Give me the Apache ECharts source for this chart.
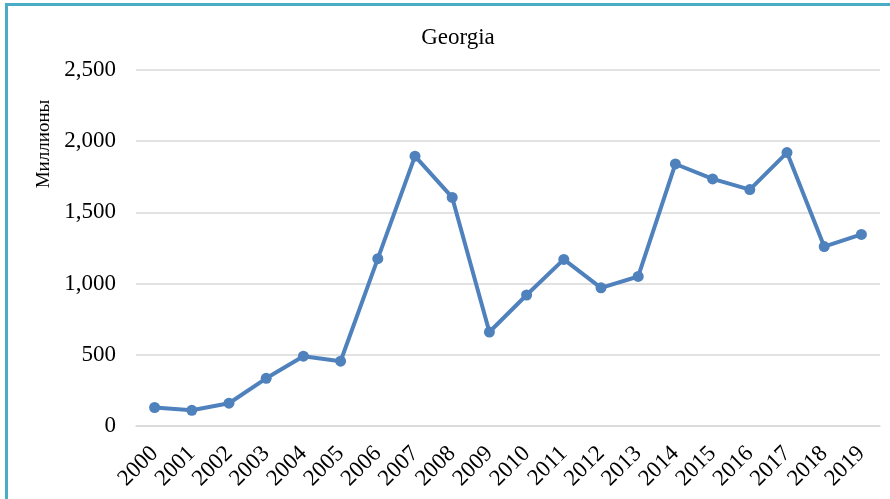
<!DOCTYPE html>
<html>
<head>
<meta charset="utf-8">
<script src="https://cdn.jsdelivr.net/npm/echarts@6/dist/echarts.min.js"></script>
<style>
  html, body { margin: 0; padding: 0; background: #ffffff; }
  #chart { width: 890px; height: 499px; }
</style>
</head>
<body>
<div id="chart"></div>
<script>
// Annual values for Georgia, in millions
const years = ['2000','2001','2002','2003','2004','2005','2006','2007','2008','2009',
               '2010','2011','2012','2013','2014','2015','2016','2017','2018','2019'];
const values = [130, 110, 160, 335, 490, 455, 1175, 1895, 1605, 660,
                920, 1170, 970, 1050, 1840, 1735, 1660, 1920, 1260, 1345];
const chartTitle = 'Georgia';
const yAxisTitle = 'Миллионы';

const serif = '"Liberation Serif", "Times New Roman", serif';
const chart = echarts.init(document.getElementById('chart'));

chart.setOption({
  backgroundColor: '#ffffff',
  animation: false,
  title: {
    text: chartTitle,
    left: 453,
    top: 21,
    textAlign: 'center',
    textStyle: { fontFamily: serif, fontSize: 23, fontWeight: 'normal', color: '#000000' }
  },
  grid: { left: 136, right: 10, top: 70, bottom: 73 },
  xAxis: {
    type: 'category',
    data: years,
    boundaryGap: true,
    axisLine: { show: true, lineStyle: { color: '#D9D9D9', width: 1.5 } },
    axisTick: { show: false },
    axisLabel: {
      interval: 0,
      rotate: 45,
      margin: 24,
      fontFamily: serif,
      fontSize: 23,
      color: '#000000'
    }
  },
  yAxis: {
    type: 'value',
    min: 0,
    max: 2500,
    interval: 500,
    axisLine: { show: false },
    axisTick: { show: false },
    splitLine: { lineStyle: { color: '#D9D9D9', width: 1.5 } },
    axisLabel: {
      margin: 20,
      fontFamily: serif,
      fontSize: 23,
      color: '#000000',
      formatter: v => v.toLocaleString('en-US')
    }
  },
  series: [{
    type: 'line',
    data: values,
    symbol: 'circle',
    symbolSize: 11,
    lineStyle: { color: '#4F81BD', width: 4 },
    itemStyle: { color: '#4F81BD' }
  }],
  graphic: [
    {
      type: 'text',
      x: 44,
      y: 144,
      rotation: Math.PI / 2,
      style: {
        text: yAxisTitle,
        fontFamily: serif,
        fontSize: 19,
        fill: '#000000',
        textAlign: 'center',
        textVerticalAlign: 'middle'
      }
    },
    // frame edges along the top and left
    { type: 'rect', shape: { x: 5, y: 3, width: 885, height: 3 }, style: { fill: '#4BACC6' } },
    { type: 'rect', shape: { x: 5, y: 3, width: 3, height: 496 }, style: { fill: '#4BACC6' } }
  ]
});
</script>
</body>
</html>
